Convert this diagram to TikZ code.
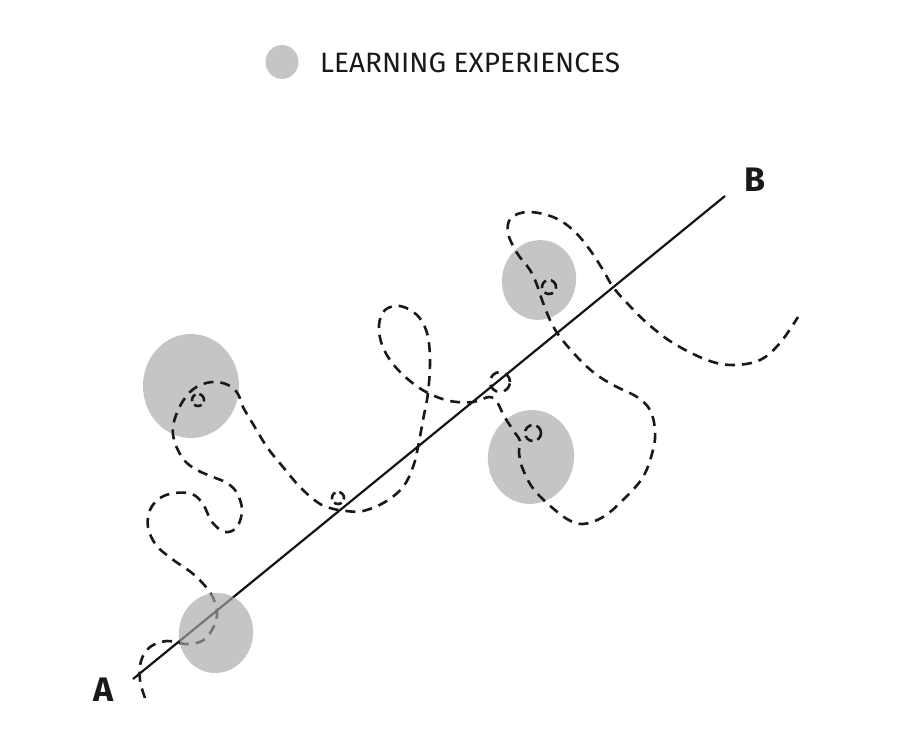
\documentclass[tikz,border=0pt]{standalone}
\usepackage{fontspec}
\setmainfont{Fira Sans}
\definecolor{blobgrey}{HTML}{C4C5C4}
\begin{document}
\begin{tikzpicture}[x=1pt,y=-1pt,
  blob/.style={fill=blobgrey,draw=none},
  trail/.style={dash pattern=on 10pt off 7pt,line width=2.6pt,black!90,line cap=butt},
  mainline/.style={line width=2.2pt,black!92},
  endlabel/.style={font=\fontsize{34}{34}\selectfont\bfseries,inner sep=0pt,text=black!90},
  legendtext/.style={font=\fontsize{28}{28}\selectfont,inner sep=0pt,anchor=west,text=black!90}]
\useasboundingbox[fill=white] (0,0) rectangle (923,730);
% legend
\fill[blob] (282,62) ellipse [x radius=16.5pt,y radius=17pt];
\node[legendtext] (legend) at (320,63) {\scalebox{1.0}[1]{LEARNING EXPERIENCES}};
% learning experiences
\fill[blob] (191,386) ellipse [x radius=48pt,y radius=52pt];
\fill[blob,rotate around={-12:(539,280)}] (539,280) ellipse [x radius=37pt,y radius=40pt];
\fill[blob,rotate around={-8:(531,457)}] (531,457) ellipse [x radius=43pt,y radius=47pt];
\fill[blob,rotate around={-8:(216,633)}] (216,633) ellipse [x radius=37pt,y radius=40pt];
% straight path A-B
\coordinate (lstart) at (133,679);
\coordinate (lend) at (725,196);
\draw[mainline] (lstart) -- (lend);
\node[endlabel] (A) at (104,690) {A};
\node[endlabel] (B) at (755,180) {B};
% wandering path
\draw[trail] plot[smooth,tension=0.6] coordinates {
(145,698) (140,680) (141,661) (150,647) (167,641) (186,644) (202,641) (212,630) (217,615) (214,600) (206,587) (192,573) (172,559) (156,545) (148,527) (150,510) (160,498) (175,493) (192,494) (203,504) (212,522) (225,532) (237,527) (242,510) (237,493) (227,483) (213,477) (197,470) (184,460) (175,443) (173,427) (179,408) (190,392) (203,384) (217,382) (230,386) (238,394) (243,407) (253,424) (267,447) (283,467) (300,487) (317,502) (330,508) (346,511) (363,511) (385,502) (403,487) (413,467) (418,447) (423,420) (428,393) (430,360) (427,333) (417,315) (400,306) (385,310) (379,325) (382,345) (393,364) (410,381) (428,393) (450,401) (473,402) (489,397) (497,402) (504,416) (513,430) (520,441) (519,452) (522,467) (532,487) (547,503) (567,519) (583,524) (603,517) (623,500) (643,477) (653,450) (655,430) (650,410) (637,397) (615,386) (597,375) (580,360) (560,337) (550,320) (542,300) (537,285) (530,270) (517,253) (508,233) (511,218) (528,212) (553,217) (573,230) (590,250) (603,270) (613,287) (627,303) (647,323) (673,343) (707,360) (733,365) (760,360) (780,343) (798,317)};
% small curls
\draw[trail,dash pattern=on 8pt off 4pt] (198,400) circle [radius=6pt];
\draw[trail,dash pattern=on 8pt off 4pt] (338,498) circle [radius=6pt];
\draw[trail] (500,382) circle [radius=10pt];
\draw[trail,dash pattern=on 9pt off 5pt] (533,433) circle [radius=8pt];
\draw[trail,dash pattern=on 9pt off 5pt] (549,287) circle [radius=7pt];
% bottom experience veils the paths that cross it
\fill[blob,opacity=0.55,rotate around={-8:(216,633)}] (216,633) ellipse [x radius=37pt,y radius=40pt];
\end{tikzpicture}
\end{document}
